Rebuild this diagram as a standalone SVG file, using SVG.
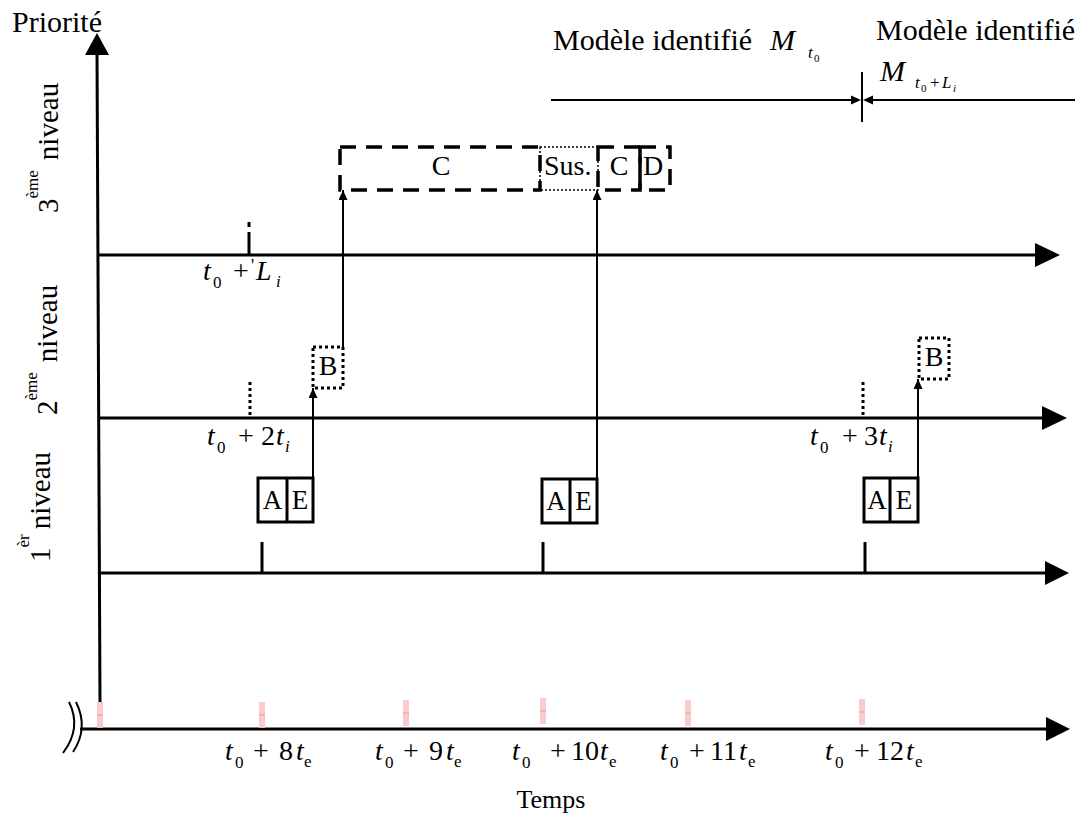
<svg xmlns="http://www.w3.org/2000/svg" width="1089" height="816" viewBox="0 0 1089 816">
<style>
.ax{stroke:#000;stroke-width:3;fill:none}
.con{stroke:#000;stroke-width:2;fill:none}
.box{stroke:#000;stroke-width:3;fill:none}
.dash{stroke:#000;stroke-width:3.5;fill:none;stroke-dasharray:16 10}
.dot{stroke:#000;stroke-width:3;fill:none;stroke-dasharray:3 3}
.fine{stroke:#000;stroke-width:1.5;fill:none;stroke-dasharray:2 2}
.t{font-family:"Liberation Serif","Times New Roman",serif;font-size:28px;fill:#000}
.big{font-size:30px}
.lv{font-size:29px}
.bx{font-size:27px}
.it{font-style:italic}
.sub{font-size:17px}
.ssub{font-size:11px}
.sup{font-size:17px}
.pink{fill:#f7c6c6;opacity:0.9}
.pl{stroke:#f08a8a;stroke-width:0.8}
</style>
<defs>
<marker id="ah" markerUnits="userSpaceOnUse" markerWidth="10" markerHeight="10" refX="10" refY="4.5" orient="auto">
<path d="M0,0 L10,4.5 L0,9 z" fill="#000"/>
</marker>
</defs>

<g id="axes">
<line class="ax" x1="100" y1="702" x2="97" y2="52"/>
<polygon points="97,33 109,55 85,55" fill="#000"/>
<line class="ax" x1="97" y1="255" x2="1038" y2="255"/>
<polygon points="1035,243 1060,255 1035,267" fill="#000"/>
<line class="ax" x1="99" y1="418" x2="1045" y2="418"/>
<polygon points="1042,406 1067,418 1042,430" fill="#000"/>
<line class="ax" x1="100" y1="573" x2="1048" y2="573"/>
<polygon points="1045,561 1069,573 1045,585" fill="#000"/>
<line class="ax" x1="80" y1="729" x2="1048" y2="729"/>
<polygon points="1046,717 1070,729 1046,741" fill="#000"/>
<path class="con" d="M69,702 Q82,728 63,753"/>
<path class="con" d="M76,702 Q89,728 73,752"/>
</g>

<g id="pink-ticks">
<rect class="pink" x="97" y="702" width="6" height="26"/><line class="pl" x1="97" y1="715" x2="103" y2="715"/>
<rect class="pink" x="259" y="702" width="6" height="26"/><line class="pl" x1="259" y1="715" x2="265" y2="715"/>
<rect class="pink" x="403" y="700" width="6" height="26"/><line class="pl" x1="403" y1="713" x2="409" y2="713"/>
<rect class="pink" x="540" y="698" width="6" height="26"/><line class="pl" x1="540" y1="711" x2="546" y2="711"/>
<rect class="pink" x="685" y="700" width="6" height="26"/><line class="pl" x1="685" y1="713" x2="691" y2="713"/>
<rect class="pink" x="859" y="699" width="6" height="26"/><line class="pl" x1="859" y1="712" x2="865" y2="712"/>
</g>

<g id="ticks">
<line class="ax" x1="262" y1="542" x2="262" y2="572"/>
<line class="ax" x1="543" y1="542" x2="543" y2="572"/>
<line class="ax" x1="865" y1="542" x2="865" y2="572"/>
<line class="dot" x1="250" y1="382" x2="250" y2="417"/>
<line class="dot" x1="863" y1="382" x2="863" y2="417"/>
<rect x="247.5" y="222" width="3" height="5" fill="#000"/>
<line class="ax" x1="249" y1="232" x2="249" y2="255"/>
</g>

<g id="labels-left">
<text class="t big" x="12" y="32">Priorité</text>
<text class="t lv" transform="translate(58,213) rotate(-90)">3<tspan class="sup" dy="-20">ème</tspan><tspan class="lv" dy="20" dx="10">niveau</tspan></text>
<text class="t lv" transform="translate(57,415) rotate(-90)">2<tspan class="sup" dy="-20">ème</tspan><tspan class="lv" dy="20" dx="10">niveau</tspan></text>
<text class="t lv" transform="translate(50,562) rotate(-90)">1<tspan class="sup" dy="-21">èr</tspan><tspan class="lv" dy="21" dx="5">niveau</tspan></text>
</g>

<g id="labels-time">
<text class="t" y="760"><tspan class="it" x="225">t</tspan><tspan class="sub" x="235" y="768">0</tspan><tspan x="253" y="760">+</tspan><tspan x="279">8</tspan><tspan class="it" x="296">t</tspan><tspan class="sub" x="304" y="767">e</tspan></text>
<text class="t" y="760"><tspan class="it" x="375">t</tspan><tspan class="sub" x="385" y="768">0</tspan><tspan x="403" y="760">+</tspan><tspan x="429">9</tspan><tspan class="it" x="446">t</tspan><tspan class="sub" x="454" y="767">e</tspan></text>
<text class="t" y="760"><tspan class="it" x="512">t</tspan><tspan class="sub" x="522" y="768">0</tspan><tspan x="550" y="760">+</tspan><tspan x="571">10</tspan><tspan class="it" x="600">t</tspan><tspan class="sub" x="609" y="767">e</tspan></text>
<text class="t" y="760"><tspan class="it" x="660">t</tspan><tspan class="sub" x="670" y="768">0</tspan><tspan x="689" y="760">+</tspan><tspan x="710">11</tspan><tspan class="it" x="739">t</tspan><tspan class="sub" x="748" y="767">e</tspan></text>
<text class="t" y="760"><tspan class="it" x="825">t</tspan><tspan class="sub" x="835" y="768">0</tspan><tspan x="854" y="760">+</tspan><tspan x="876">12</tspan><tspan class="it" x="906">t</tspan><tspan class="sub" x="915" y="767">e</tspan></text>
<text class="t" x="551" y="808" text-anchor="middle" style="font-size:26px">Temps</text>
<text class="t" y="280"><tspan class="it" x="203">t</tspan><tspan class="sub" x="213" y="288">0</tspan><tspan x="233" y="280">+</tspan><tspan x="251" y="272" style="font-size:18px">'</tspan><tspan class="it" x="256" y="280">L</tspan><tspan class="sub it" x="276" y="287">i</tspan></text>
<text class="t" y="445"><tspan class="it" x="207">t</tspan><tspan class="sub" x="217" y="453">0</tspan><tspan x="238" y="445">+</tspan><tspan x="261">2</tspan><tspan class="it" x="276">t</tspan><tspan class="sub it" x="285" y="452">i</tspan></text>
<text class="t" y="445"><tspan class="it" x="810">t</tspan><tspan class="sub" x="820" y="453">0</tspan><tspan x="842" y="445">+</tspan><tspan x="864">3</tspan><tspan class="it" x="879">t</tspan><tspan class="sub it" x="888" y="452">i</tspan></text>
</g>

<g id="model-labels">
<text class="t big" x="553" y="50">Modèle identifié</text>
<text class="t big it" x="770" y="50">M</text>
<text class="t it sub" x="808" y="58">t</text>
<text class="t ssub" x="814" y="62">0</text>
<text class="t big" x="876" y="40">Modèle identifié</text>
<text class="t big it" x="880" y="81">M</text>
<text class="t it sub" x="915" y="88">t</text>
<text class="t ssub" x="921" y="92">0</text>
<text class="t sub" x="930" y="88">+</text>
<text class="t it sub" x="942" y="88">L</text>
<text class="t it ssub" x="953" y="92">i</text>
<line class="con" x1="862" y1="72" x2="862" y2="122"/>
<line class="con" x1="551" y1="100" x2="852" y2="100"/>
<polygon points="861,100 851,95.5 851,104.5" fill="#000"/>
<line class="con" x1="1075" y1="100" x2="872" y2="100"/>
<polygon points="863,100 873,95.5 873,104.5" fill="#000"/>
</g>

<g id="connectors">
<line class="con" x1="313" y1="478" x2="313" y2="388" marker-end="url(#ah)"/>
<line class="con" x1="343" y1="347" x2="343" y2="190" marker-end="url(#ah)"/>
<line class="con" x1="597" y1="478" x2="597" y2="190" marker-end="url(#ah)"/>
<line class="con" x1="918" y1="478" x2="918" y2="379" marker-end="url(#ah)"/>
</g>

<g id="node-AE1">
<rect class="box" x="258" y="478" width="55" height="44"/>
<line class="box" x1="287" y1="478" x2="287" y2="522"/>
<text class="t bx" x="272.5" y="509" text-anchor="middle">A</text>
<text class="t bx" x="300" y="509" text-anchor="middle">E</text>
</g>
<g id="node-AE2">
<rect class="box" x="542" y="479" width="55" height="44"/>
<line class="box" x1="570" y1="479" x2="570" y2="523"/>
<text class="t bx" x="556" y="510" text-anchor="middle">A</text>
<text class="t bx" x="583.5" y="510" text-anchor="middle">E</text>
</g>
<g id="node-AE3">
<rect class="box" x="864" y="478" width="54" height="44"/>
<line class="box" x1="890" y1="478" x2="890" y2="522"/>
<text class="t bx" x="877" y="509" text-anchor="middle">A</text>
<text class="t bx" x="904" y="509" text-anchor="middle">E</text>
</g>
<g id="node-B1">
<rect class="dot" x="313" y="347" width="30" height="41"/>
<text class="t" x="328" y="375" text-anchor="middle">B</text>
</g>
<g id="node-B2">
<rect class="dot" x="919" y="338" width="30" height="41"/>
<text class="t" x="934" y="366" text-anchor="middle">B</text>
</g>
<g id="node-C">
<rect class="dash" x="340" y="147" width="200" height="43"/>
<text class="t" x="441" y="175" text-anchor="middle">C</text>
</g>
<g id="node-Sus">
<rect class="fine" x="540" y="147" width="58" height="43"/>
<text class="t" x="544" y="175">Sus.</text>
</g>
<g id="node-C2">
<rect class="dash" x="598" y="147" width="42" height="43"/>
<text class="t" x="619" y="175" text-anchor="middle">C</text>
</g>
<g id="node-D">
<rect class="dash" x="640" y="147" width="30" height="43"/>
<text class="t" x="653" y="175" text-anchor="middle">D</text>
</g>
</svg>
